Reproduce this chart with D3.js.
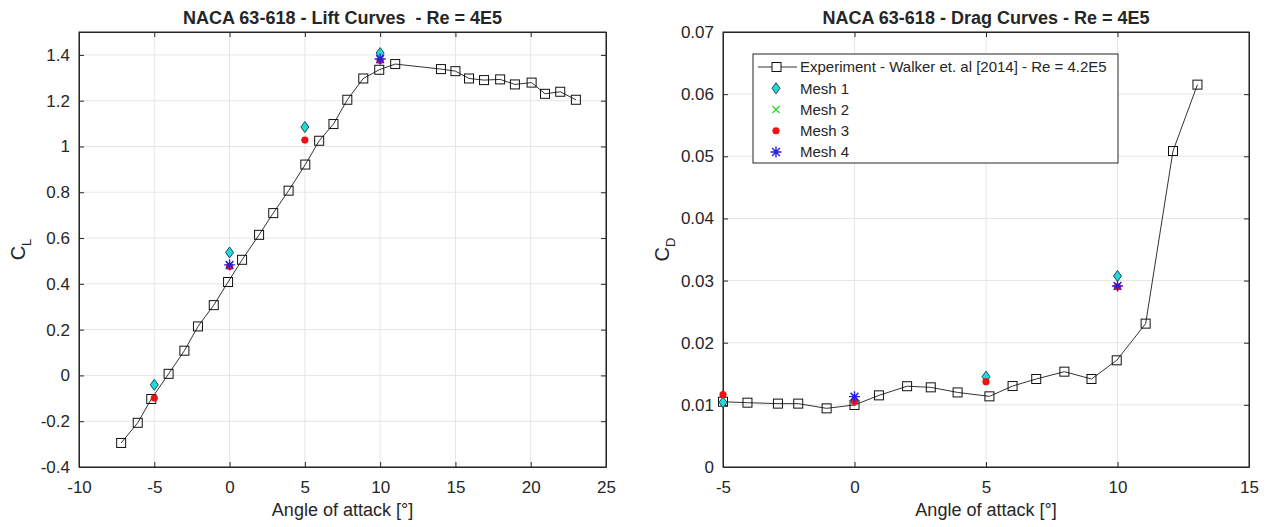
<!DOCTYPE html>
<meta charset="utf-8">
<style>
body{margin:0;background:#fff;}
svg text{font-family:"Liberation Sans",Arial,sans-serif;fill:#262626;}
.grid line{stroke:#e6e6e6;stroke-width:1;}
</style>
<svg id="chart" width="1267" height="527"></svg>
<script src="https://d3js.org/d3.v7.min.js"></script>
<script>
// experiment, lift
const liftAlpha = [-7.2,-6.1,-5.2,-4.05,-3,-2.1,-1.05,-0.1,0.83,1.96,2.9,3.92,5.03,5.95,6.9,7.82,8.88,9.94,11,14.04,15,15.9,16.9,17.97,18.95,20.06,20.95,21.96,23];
const liftCL = [-0.295,-0.207,-0.103,0.007,0.108,0.214,0.307,0.408,0.505,0.614,0.709,0.807,0.921,1.025,1.098,1.204,1.297,1.335,1.36,1.338,1.329,1.297,1.29,1.293,1.271,1.279,1.23,1.239,1.204];
// experiment, drag
const dragAlpha = [-5,-4.07,-2.91,-2.14,-1.06,0,0.93,2,2.9,3.92,5.13,6.01,6.91,7.98,9.01,9.97,11.07,12.11,13.04];
const dragCD = [0.0105,0.01035,0.0102,0.0102,0.00944,0.00998,0.01153,0.0130,0.01282,0.0120,0.01137,0.01303,0.01416,0.01534,0.01416,0.01717,0.02307,0.05085,0.06153];
// CFD meshes
const meshAlpha = [-5,0,5,10];
const mesh1CL = [-0.041,0.537,1.085,1.408];
const mesh2CL = [null,0.48,null,1.38];
const mesh3CL = [-0.099,0.476,1.028,1.375];
const mesh4CL = [null,0.483,null,1.382];
const mesh1CD = [0.0104,0.0107,0.01453,0.03074];
const mesh2CD = [null,0.0112,null,0.0291];
const mesh3CD = [0.01164,0.0105,0.01373,0.0290];
const mesh4CD = [null,0.01132,null,0.02913];
const liftXTicks = [-10,-5,0,5,10,15,20,25];
const liftYTicks = [-0.4,-0.2,0,0.2,0.4,0.6,0.8,1,1.2,1.4];
const dragXTicks = [-5,0,5,10,15];
const dragYTicks = [0,0.01,0.02,0.03,0.04,0.05,0.06,0.07];
const legendNames = ['Experiment - Walker et. al [2014] - Re = 4.2E5','Mesh 1','Mesh 2','Mesh 3','Mesh 4'];

const svg = d3.select('#chart');
const mkPts = (xs, ys) => xs.map((x,i) => [x, ys[i]]).filter(d => d[1] != null);
const AX = '#262626';

function panel(o) {
  const x = d3.scaleLinear().domain(o.xd).range([o.left, o.right]);
  const y = d3.scaleLinear().domain(o.yd).range([o.bottom, o.top]);
  const g = svg.append('g');
  // grid
  const grid = g.append('g').attr('class','grid');
  grid.selectAll('line.v').data(o.xt).enter().append('line')
    .attr('x1', d => x(d)).attr('x2', d => x(d)).attr('y1', o.top).attr('y2', o.bottom);
  grid.selectAll('line.h').data(o.yt).enter().append('line')
    .attr('y1', d => y(d)).attr('y2', d => y(d)).attr('x1', o.left).attr('x2', o.right);
  // axes, ticks inward, box on
  g.append('g').attr('transform', `translate(0,${o.bottom})`)
    .call(d3.axisBottom(x).tickValues(o.xt).tickSizeInner(-5).tickSizeOuter(0).tickPadding(14).tickFormat(String));
  g.append('g').attr('transform', `translate(0,${o.top})`)
    .call(d3.axisTop(x).tickValues(o.xt).tickSizeInner(-5).tickSizeOuter(0).tickFormat(''));
  g.append('g').attr('transform', `translate(${o.left},0)`)
    .call(d3.axisLeft(y).tickValues(o.yt).tickSizeInner(-5).tickSizeOuter(0).tickPadding(9).tickFormat(String));
  g.append('g').attr('transform', `translate(${o.right},0)`)
    .call(d3.axisRight(y).tickValues(o.yt).tickSizeInner(-5).tickSizeOuter(0).tickFormat(''));
  g.selectAll('.domain').attr('stroke', AX);
  g.selectAll('.tick line').attr('stroke', AX);
  g.selectAll('.tick text').style('font-size','17px').attr('fill', AX);
  g.append('rect').attr('x', o.left).attr('y', o.top).attr('width', o.right-o.left).attr('height', o.bottom-o.top)
    .attr('fill','none').attr('stroke', AX);

  // experiment line + square markers
  const pts = mkPts(o.ex, o.ey);
  g.append('path').attr('d', d3.line().x(d => x(d[0])).y(d => y(d[1]))(pts))
    .attr('fill','none').attr('stroke','#333').attr('stroke-width',1);
  g.selectAll('rect.sq').data(pts).enter().append('rect').attr('class','sq')
    .attr('x', d => x(d[0])-4.5).attr('y', d => y(d[1])-4.5).attr('width',9).attr('height',9)
    .attr('fill','none').attr('stroke','#111').attr('stroke-width',1);

  // meshes
  mkPts(meshAlpha, o.m1).forEach(d => diamond(g, x(d[0]), y(d[1])));
  mkPts(meshAlpha, o.m2).forEach(d => cross(g, x(d[0]), y(d[1])));
  mkPts(meshAlpha, o.m3).forEach(d => dot(g, x(d[0]), y(d[1])));
  mkPts(meshAlpha, o.m4).forEach(d => star(g, x(d[0]), y(d[1])));

  // texts
  g.append('text').attr('x', (o.left+o.right)/2).attr('y', 24).attr('text-anchor','middle')
    .style('font-size','18px').style('font-weight','bold').attr('fill','#000').style('white-space','pre').text(o.title);
  g.append('text').attr('x', (o.left+o.right)/2).attr('y', 516).attr('text-anchor','middle')
    .style('font-size','18px').text('Angle of attack [°]');
  const yl = g.append('text').attr('transform', `translate(${o.left-54},${(o.top+o.bottom)/2}) rotate(-90)`)
    .attr('text-anchor','middle').style('font-size','20px');
  yl.append('tspan').text('C');
  yl.append('tspan').attr('dy', 6).style('font-size','13px').text(o.sub);
  return g;
}

function diamond(g, cx, cy) {
  g.append('path').attr('d', `M${cx},${cy-5.5}L${cx+4},${cy}L${cx},${cy+5.5}L${cx-4},${cy}Z`)
    .attr('fill','#22d8d8').attr('stroke','#1a4a5a').attr('stroke-width',1);
}
function cross(g, cx, cy) {
  g.append('path').attr('d', `M${cx-3.5},${cy-3.5}L${cx+3.5},${cy+3.5}M${cx-3.5},${cy+3.5}L${cx+3.5},${cy-3.5}`)
    .attr('stroke','#22dd22').attr('stroke-width',1.2);
}
function dot(g, cx, cy) {
  g.append('circle').attr('cx', cx).attr('cy', cy).attr('r', 3.6).attr('fill','#ee1111');
}
function star(g, cx, cy) {
  const r = 5.5, r2 = 3.9;
  g.append('path').attr('d', `M${cx-r},${cy}L${cx+r},${cy}M${cx},${cy-r}L${cx},${cy+r}M${cx-r2},${cy-r2}L${cx+r2},${cy+r2}M${cx-r2},${cy+r2}L${cx+r2},${cy-r2}`)
    .attr('stroke','#2a1ee0').attr('stroke-width',1.4);
}

panel({left:79, right:606, top:32, bottom:467, xd:[-10,25], yd:[-0.4,1.5], xt:liftXTicks, yt:liftYTicks,
  ex:liftAlpha, ey:liftCL, m1:mesh1CL, m2:mesh2CL, m3:mesh3CL, m4:mesh4CL,
  title:'NACA 63-618 - Lift Curves  - Re = 4E5', sub:'L'});
panel({left:723, right:1249, top:32, bottom:467, xd:[-5,15], yd:[0,0.07], xt:dragXTicks, yt:dragYTicks,
  ex:dragAlpha, ey:dragCD, m1:mesh1CD, m2:mesh2CD, m3:mesh3CD, m4:mesh4CD,
  title:'NACA 63-618 - Drag Curves - Re = 4E5', sub:'D'});

// legend
const lg = svg.append('g');
lg.append('rect').attr('x',753).attr('y',54).attr('width',365).attr('height',109)
  .attr('fill','#fff').attr('stroke', AX);
const legendY = d3.scalePoint().domain(legendNames).range([67,152]);
lg.append('line').attr('x1',758).attr('x2',797).attr('y1',legendY(legendNames[0])).attr('y2',legendY(legendNames[0]))
  .attr('stroke','#333');
lg.append('rect').attr('x',772).attr('y',legendY(legendNames[0])-4.5).attr('width',9).attr('height',9)
  .attr('fill','#fff').attr('stroke','#111');
diamond(lg, 776, legendY('Mesh 1'));
cross(lg, 776, legendY('Mesh 2'));
dot(lg, 776, legendY('Mesh 3'));
star(lg, 776, legendY('Mesh 4'));
lg.selectAll('text').data(legendNames).enter().append('text')
  .attr('x',800).attr('y', d => legendY(d)).attr('dy','0.35em').style('font-size','15px').text(d => d);
</script>
